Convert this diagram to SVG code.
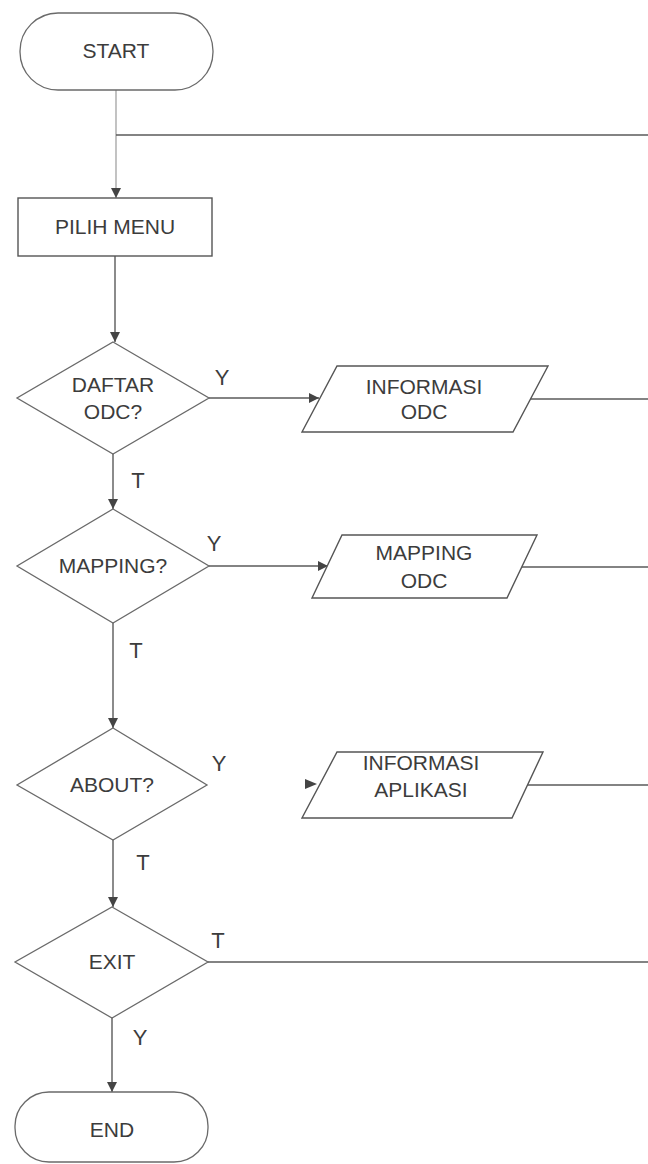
<svg xmlns="http://www.w3.org/2000/svg" width="648" height="1164" viewBox="0 0 648 1164">
<style>
.bg{fill:#ffffff}
.shape{fill:#ffffff;stroke:#6a6a6a;stroke-width:1.3}
.box{fill:#ffffff;stroke:#555555;stroke-width:1.4}
.line{fill:none;stroke:#5a5a5a;stroke-width:1.4}
.faint{fill:none;stroke:#9a9a9a;stroke-width:1.2}
.txt{font-family:"Liberation Sans",Arial,sans-serif;font-size:21px;fill:#3c3c3c;text-anchor:middle}
.lbl{font-family:"Liberation Sans",Arial,sans-serif;font-size:22px;fill:#3c3c3c;text-anchor:middle}
.head{fill:#444444}
</style>
<defs>
<marker id="arr" viewBox="0 0 10 10" refX="10" refY="5" markerWidth="11" markerHeight="10" markerUnits="userSpaceOnUse" orient="auto">
<path d="M0,0 L10,5 L0,10 Z" class="head"/>
</marker>
</defs>
<rect class="bg" x="0" y="0" width="648" height="1164"/>

<g id="connectors">
<path class="faint" d="M116,90 V198" marker-end="url(#arr)"/>
<path class="line" d="M648,135 H116"/>
<path class="line" d="M115,256 V342" marker-end="url(#arr)"/>
<path class="line" d="M209,398 H319" marker-end="url(#arr)"/>
<path class="line" d="M530,399 H648"/>
<path class="line" d="M113,454 V509" marker-end="url(#arr)"/>
<path class="line" d="M209,566 H328" marker-end="url(#arr)"/>
<path class="line" d="M522,567 H648"/>
<path class="line" d="M113,623 V728" marker-end="url(#arr)"/>
<path class="head" d="M305,779 L317,784 L305,789 Z"/>
<path class="line" d="M527,785 H648"/>
<path class="line" d="M113,840 V907" marker-end="url(#arr)"/>
<path class="line" d="M208,962 H648"/>
<path class="line" d="M112,1018 V1092" marker-end="url(#arr)"/>
<text class="lbl" x="222" y="385">Y</text>
<text class="lbl" x="138" y="488">T</text>
<text class="lbl" x="214" y="551">Y</text>
<text class="lbl" x="136" y="658">T</text>
<text class="lbl" x="219" y="771">Y</text>
<text class="lbl" x="143" y="870">T</text>
<text class="lbl" x="218" y="948">T</text>
<text class="lbl" x="140" y="1045">Y</text>
</g>

<g id="start">
<rect class="shape" x="20" y="13" width="193" height="77" rx="38" ry="38"/>
<text class="txt" x="116" y="58">START</text>
</g>

<g id="pilih-menu">
<rect class="box" x="18" y="198" width="194" height="58"/>
<text class="txt" x="115" y="234">PILIH MENU</text>
</g>

<g id="daftar-odc">
<polygon class="shape" points="113,342 209,398 113,454 17,398"/>
<text class="txt" x="113" y="392">DAFTAR</text>
<text class="txt" x="113" y="419">ODC?</text>
</g>

<g id="informasi-odc">
<polygon class="box" points="337,366 548,366 513,432 302,432"/>
<text class="txt" x="424" y="394">INFORMASI</text>
<text class="txt" x="424" y="419">ODC</text>
</g>

<g id="mapping">
<polygon class="shape" points="113,509 209,566 113,623 17,566"/>
<text class="txt" x="113" y="573">MAPPING?</text>
</g>

<g id="mapping-odc">
<polygon class="box" points="342,535 537,535 507,598 312,598"/>
<text class="txt" x="424" y="560">MAPPING</text>
<text class="txt" x="424" y="588">ODC</text>
</g>

<g id="about">
<polygon class="shape" points="113,728 207,785 113,840 17,785"/>
<text class="txt" x="112" y="792">ABOUT?</text>
</g>

<g id="informasi-aplikasi">
<polygon class="box" points="337,752 543,752 512,818 302,818"/>
<text class="txt" x="421" y="770">INFORMASI</text>
<text class="txt" x="421" y="797">APLIKASI</text>
</g>

<g id="exit">
<polygon class="shape" points="112,907 208,962 112,1018 15,962"/>
<text class="txt" x="112" y="969">EXIT</text>
</g>

<g id="end">
<rect class="shape" x="15" y="1092" width="193" height="70" rx="34" ry="34"/>
<text class="txt" x="112" y="1137">END</text>
</g>
</svg>
